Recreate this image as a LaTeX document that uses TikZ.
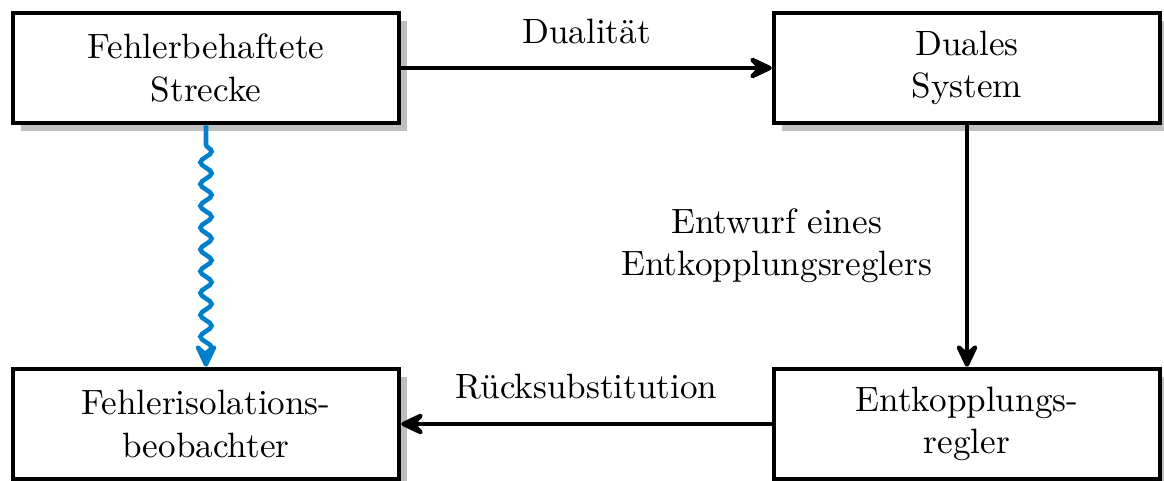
\documentclass[tikz,border=0pt]{standalone}
\usetikzlibrary{arrows.meta,shadows,decorations.pathmorphing}
\definecolor{snakeblue}{RGB}{0,128,204}
\begin{document}
\begin{tikzpicture}[
  x=0.2845pt, y=-0.2845pt,
  font=\fontsize{10}{12}\selectfont,
  block/.style={draw, line width=1.3pt, fill=white, rectangle,
    minimum width=109.8pt, minimum height=31.3pt, align=center,
    inner sep=0pt, drop shadow},
  conn/.style={line width=1.3pt,
    -{Stealth[round, length=9pt, width=8.5pt, inset=4pt]}},
  faultlink/.style={conn, draw=snakeblue, decorate,
    decoration={snake, amplitude=1.6pt, segment length=6.2pt,
      pre length=5.5pt, post length=1.5pt}},
]
\useasboundingbox (0,0) rectangle (1164,480);

\node[block] (plant)    at (206,68)  {Fehlerbehaftete\\Strecke};
\node[block] (dual)     at (967,68)  {Duales\\System};
\node[block] (observer) at (206,424) {Fehlerisolations-\\beobachter};
\node[block] (decoup)   at (967,424) {Entkopplungs-\\regler};

\draw[conn] (plant) -- node[above, yshift=3pt] {Dualität} (dual);
\draw[conn] (dual) -- node[left, xshift=-6pt, align=center]
  {Entwurf eines\\Entkopplungsreglers} (decoup);
\draw[conn] (decoup) -- node[above, yshift=3pt] {Rücksubstitution} (observer);
\draw[faultlink] (plant) -- (observer);
\end{tikzpicture}
\end{document}
